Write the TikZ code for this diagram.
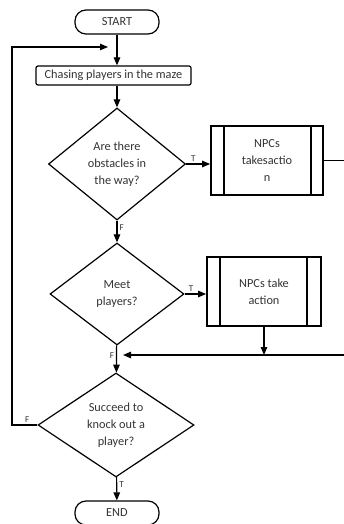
\documentclass[tikz,border=0pt]{standalone}
\usepackage{fontspec}
\setmainfont{Carlito}
\usetikzlibrary{shapes.geometric, arrows.meta}

\begin{document}
\begin{tikzpicture}[x=1pt,y=-1pt,line width=1.2pt]
\tikzstyle{every node}=[font=\fontsize{12.3}{17}\selectfont, text=black!80]
\tikzstyle{terminal}=[draw, rounded corners=11pt, minimum width=84pt, minimum height=24pt, inner sep=0pt]
\tikzstyle{process}=[draw, rounded corners=2pt, minimum width=155pt, minimum height=19pt, inner sep=0pt]
\tikzstyle{decision}=[draw, diamond, inner sep=0pt, align=center]
\tikzstyle{subproc}=[draw, line width=1.8pt, align=center, inner sep=0pt]
\tikzstyle{flow}=[-{Triangle[length=8pt,width=6.5pt]}]
\tikzstyle{lbl}=[font=\fontsize{9}{10}\selectfont, inner sep=2pt]
\useasboundingbox (0,0) rectangle (344,524);
% main column
\node[terminal](start) at (117,22) {START};
\node[process](chase) at (113.5,75.5) {Chasing players in the maze};
\node[decision, minimum width=137pt, minimum height=112pt](obst) at (117,164) {Are there\\obstacles in\\the way?};
\node[subproc, minimum width=112pt, minimum height=69pt](npcA) at (267,160.5) {NPCs\\takesactio\\n};
\node[decision, minimum width=134pt, minimum height=102pt](meet) at (117,294) {Meet\\players?};
\node[subproc, minimum width=114pt, minimum height=69pt](npcB) at (264,291.5) {NPCs take\\action};
\node[decision, minimum width=156pt, minimum height=104pt](ko) at (116,425) {Succeed to\\knock out a\\player?};
\node[terminal](stop) at (117,513) {END};
\coordinate (jn) at (117,355);
\coordinate (back) at (108,47);
% inner bars of the subprocess boxes
\draw[line width=1.8pt] ([xshift=14pt]npcA.north west) -- ([xshift=14pt]npcA.south west);
\draw[line width=1.8pt] ([xshift=-13pt]npcA.north east) -- ([xshift=-13pt]npcA.south east);
\draw[line width=1.8pt] ([xshift=14pt]npcB.north west) -- ([xshift=14pt]npcB.south west);
\draw[line width=1.8pt] ([xshift=-15pt]npcB.north east) -- ([xshift=-15pt]npcB.south east);
% connectors
\draw[flow] (start) -- (start |- chase.north);
\draw[flow] (chase.south -| obst) -- (obst.north);
\draw[flow] (obst.east) -- node[lbl, above, pos=0.3]{T} (obst.east -| npcA.west);
\draw[flow] (obst) -- node[lbl, right, pos=0.3]{F} (meet);
\draw[flow] (meet.east) -- node[lbl, above, pos=0.3]{T} (meet.east -| npcB.west);
\draw[flow] (meet) -- node[lbl, left, pos=0.36]{F} (ko);
\draw[flow] (npcA.east) -- (352,160.5) |- ([xshift=6pt]jn);
\draw[flow] (npcB.south) -- (npcB.south |- jn);
\draw[flow] (ko.west) -- node[lbl, above, pos=0.4]{F} (12,425) |- (back);
\draw[flow] (ko) -- node[lbl, right, pos=0.3]{T} (stop);
\end{tikzpicture}
\end{document}
